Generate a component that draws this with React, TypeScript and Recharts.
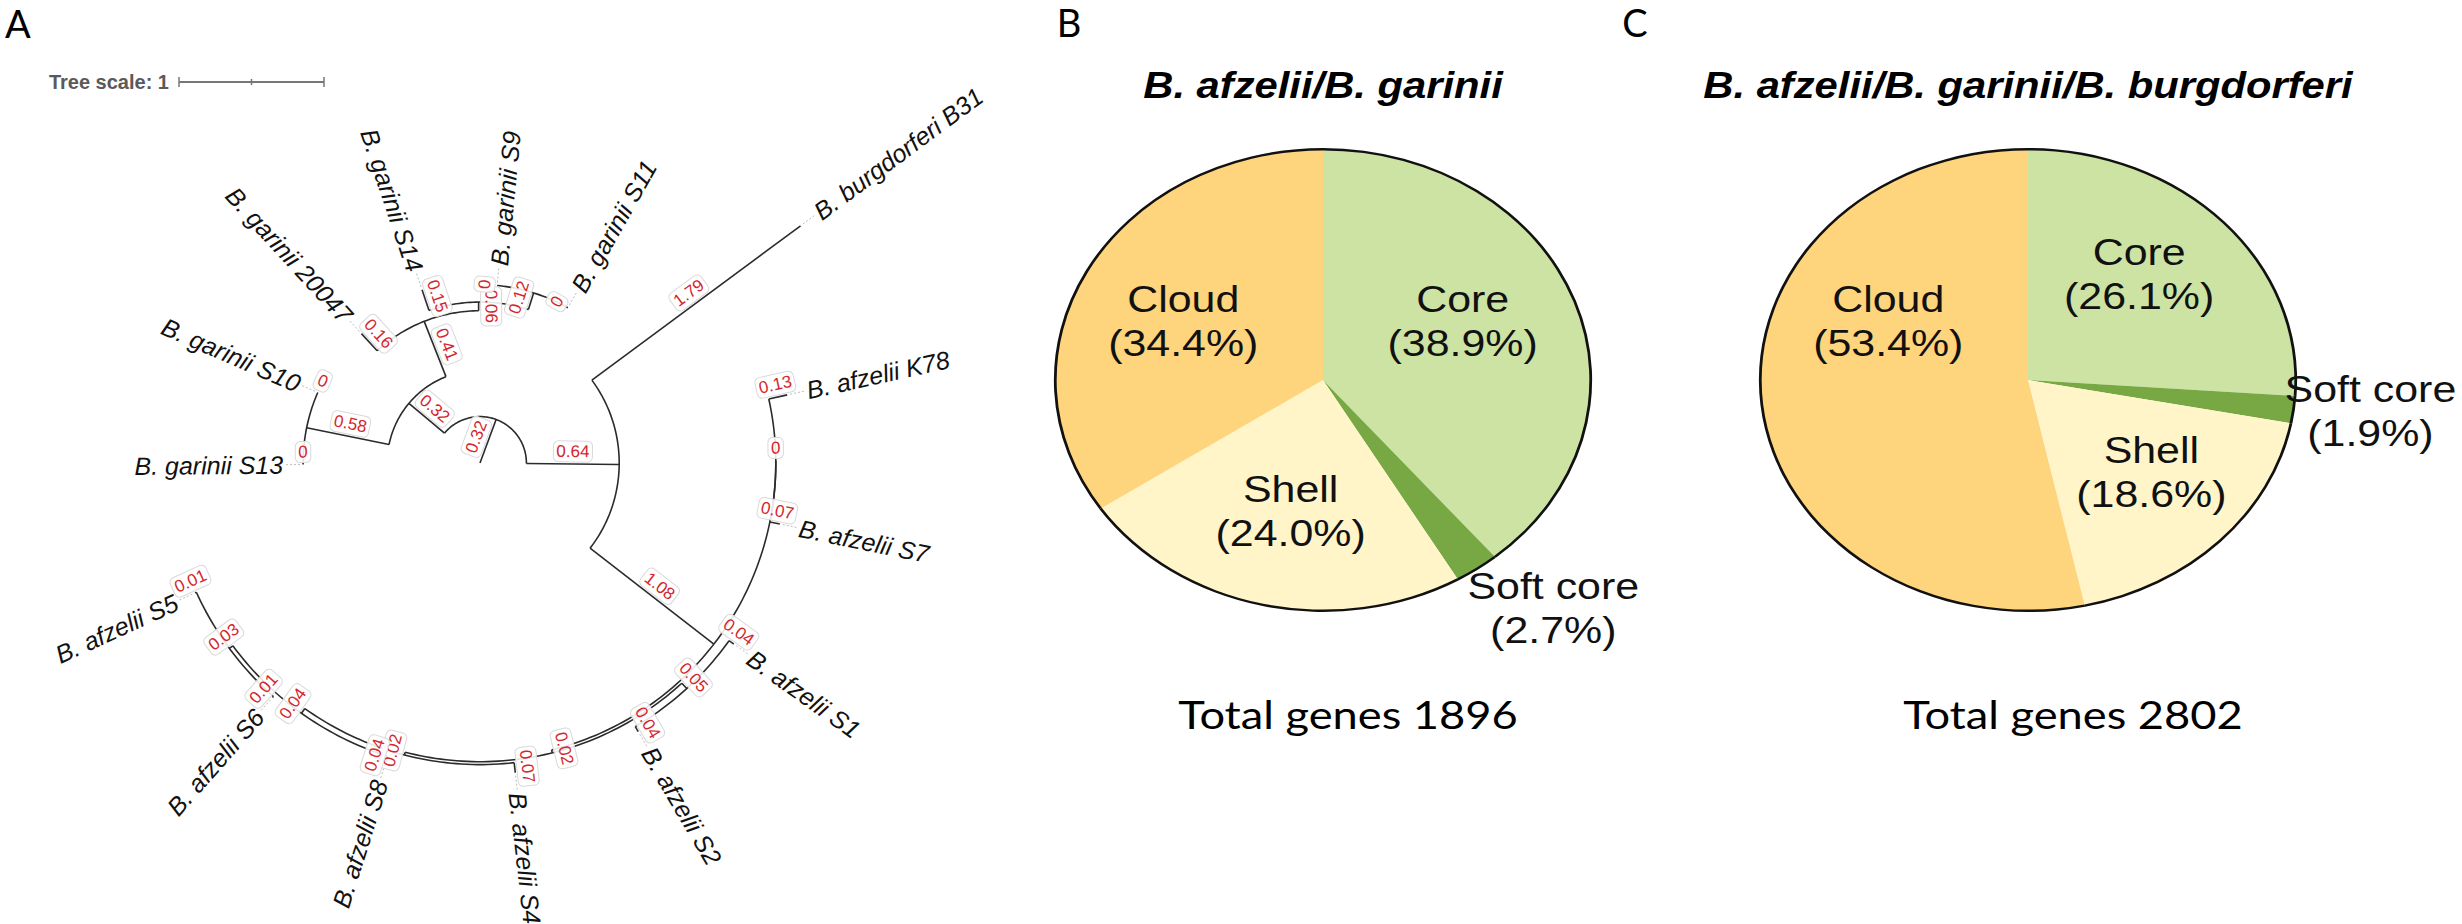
import React from "react";
import { ScatterChart, Scatter, XAxis, YAxis, PieChart, Pie, Cell } from "recharts";

// ---------- panel A: tree (edges as parent -> child with branch length) ----------
const edgeParent = ["root", "x", "x", "y", "y", "z", "z", "g1", "g1", "g2", "g2", "h", "h", "i", "i", "w", "w", "c1", "c1", "n", "n", "p", "p", "q", "q", "r", "r", "t", "t"];
const edgeChild = ["x", "z", "y", "B31", "w", "g1", "g2", "S13", "S10", "20047", "h", "S14", "i", "S9", "S11", "c1", "n", "K78", "S7", "p", "q", "S1", "S2", "S4", "r", "S8", "t", "S6", "S5"];
const edgeLength = [0.32, 0.32, 0.64, 1.79, 1.08, 0.58, 0.41, 0, 0, 0.16, 0.06, 0.15, 0.12, 0, 0, 0, 0.02, 0.13, 0.07, 0.05, 0.02, 0.04, 0.04, 0.07, 0.04, 0.04, 0.03, 0.01, 0.01];

// leaves in clockwise order
const leafOrder = ["S13", "S10", "20047", "S14", "S9", "S11", "B31", "K78", "S7", "S1", "S2", "S4", "S8", "S6", "S5"];
const leafNames = [
  "B. garinii S13", "B. garinii S10", "B. garinii 20047", "B. garinii S14", "B. garinii S9", "B. garinii S11",
  "B. burgdorferi B31", "B. afzelii K78", "B. afzelii S7", "B. afzelii S1", "B. afzelii S2", "B. afzelii S4",
  "B. afzelii S8", "B. afzelii S6", "B. afzelii S5",
];

// ---------- panels B / C: pan-genome partitions ----------
const pieCategories = ["Core", "Soft core", "Shell", "Cloud"];
const pctAfzGar = [38.9, 2.7, 24.0, 34.4];
const pctAfzGarBur = [26.1, 1.9, 18.6, 53.4];
const totalAfzGar = 1896;
const totalAfzGarBur = 2802;

const pieColors = ["#cde3a4", "#77a843", "#fff5c9", "#fed47d"];

// ---------- layout ----------
const TREE_W = 1000;
const TREE_H = 924;
const UNIT = 145; // px per unit of branch length
const ORIGIN = { x: 480, y: 463 };
const START_ANGLE = -180.5;
const STEP = 24;
const STRETCH = 1.16;

const kids: Record<string, string[]> = {};
const lenOf: Record<string, number> = {};
const parentOf: Record<string, string> = {};
edgeChild.forEach((c, i) => {
  (kids[edgeParent[i]] ||= []).push(c);
  lenOf[c] = edgeLength[i];
  parentOf[c] = edgeParent[i];
});

const radius: Record<string, number> = {};
const angle: Record<string, number> = {};
function place(id: string, r: number) {
  radius[id] = r;
  const ch = kids[id];
  if (!ch) {
    angle[id] = START_ANGLE + leafOrder.indexOf(id) * STEP;
    return;
  }
  ch.forEach((c) => place(c, r + lenOf[c]));
  angle[id] = ch.reduce((s, c) => s + angle[c], 0) / ch.length;
}
place("root", 0);

const pt = (r: number, a: number) => ({
  x: r * Math.cos((a * Math.PI) / 180),
  y: -r * Math.sin((a * Math.PI) / 180),
});

const radials = edgeChild.map((c) => [pt(radius[parentOf[c]], angle[c]), pt(radius[c], angle[c])]);

const arcs = Object.keys(kids)
  .filter((id) => kids[id].length > 1)
  .map((id) => {
    const as = kids[id].map((c) => angle[c]);
    const a0 = Math.min(...as);
    const a1 = Math.max(...as);
    const n = Math.max(2, Math.ceil(a1 - a0) + 1);
    return Array.from({ length: n }, (_, k) => pt(radius[id], a0 + ((a1 - a0) * k) / (n - 1)));
  });

const leafData = leafOrder.map((id, i) => ({ ...pt(radius[id], angle[id]), angle: angle[id], label: leafNames[i] }));

const branchData = edgeChild.map((c, i) => ({
  ...pt((radius[parentOf[c]] + radius[c]) / 2, angle[c]),
  angle: angle[c],
  text: edgeLength[i] === 0 ? "0" : edgeLength[i].toFixed(2),
}));

const xDomain = [-ORIGIN.x / UNIT, (TREE_W - ORIGIN.x) / UNIT];
const yDomain = [-(TREE_H - ORIGIN.y) / UNIT, ORIGIN.y / UNIT];

const SCALE_BAR = { left: 179, top: 82 };
const scaleY = (ORIGIN.y - SCALE_BAR.top) / UNIT;
const scaleX0 = (SCALE_BAR.left - ORIGIN.x) / UNIT;
const scaleData = [0, 0.5, 1].map((v) => ({ x: scaleX0 + v, y: scaleY, end: v !== 0.5, first: v === 0 }));

const Empty = () => <g />;

const LeafLabel = (p: any) => {
  const { cx, cy, payload } = p;
  const t = (payload.angle * Math.PI) / 180;
  const ux = Math.cos(t);
  const uy = Math.sin(t);
  const right = ux >= 0;
  const rot = right ? payload.angle : payload.angle + 180;
  const tx = cx + ux * 20;
  const ty = cy + uy * 20;
  return (
    <g>
      <line x1={cx + ux * 3} y1={cy + uy * 3} x2={cx + ux * 18} y2={cy + uy * 18} stroke="#bdbdbd" strokeWidth={1} strokeDasharray="2 2" />
      <text
        x={tx}
        y={ty}
        transform={`rotate(${rot} ${tx} ${ty})`}
        textAnchor={right ? "start" : "end"}
        dominantBaseline="central"
        fontFamily='"Liberation Sans", Arial, sans-serif'
        fontStyle="italic"
        fontSize={25}
        fill="#111"
      >
        {payload.label}
      </text>
    </g>
  );
};

const BranchLabel = (p: any) => {
  const { cx, cy, payload } = p;
  const t = (payload.angle * Math.PI) / 180;
  const rot = Math.cos(t) >= 0 ? payload.angle : payload.angle + 180;
  const fs = 17;
  const w = payload.text.split("").reduce((s: number, ch: string) => s + (ch === "." ? 0.278 : 0.556), 0) * fs + 6;
  const h = 21;
  return (
    <g transform={`translate(${cx} ${cy}) rotate(${rot})`}>
      <rect x={-w / 2} y={-h - 2} width={w} height={h} rx={5} fill="#fff" fillOpacity={0.88} stroke="#d9d9d9" strokeWidth={1} />
      <text x={0} y={-h / 2 - 2} textAnchor="middle" dominantBaseline="central" fontFamily='"Liberation Sans", Arial, sans-serif' fontSize={fs} fill="#d4262b">
        {payload.text}
      </text>
    </g>
  );
};

const ScaleTick = (p: any) => {
  const { cx, cy, payload } = p;
  const h = payload.end ? 5 : 3;
  return (
    <g>
      <line x1={cx} y1={cy - h} x2={cx} y2={cy + h} stroke="#777" strokeWidth={1.5} />
      {payload.first && (
        <text x={cx - 10} y={cy} textAnchor="end" dominantBaseline="central" fontFamily='"Liberation Sans", Arial, sans-serif' fontWeight="bold" fontSize={20} fill="#5a5a5a">
          Tree scale: 1
        </text>
      )}
    </g>
  );
};

function TreePanel() {
  const line = { stroke: "#2b2b2b", strokeWidth: 1.6 };
  return (
    <div style={{ position: "absolute", left: 0, top: 0 }}>
      <ScatterChart width={TREE_W} height={TREE_H} margin={{ top: 0, right: 0, bottom: 0, left: 0 }}>
        <XAxis type="number" dataKey="x" domain={xDomain} allowDataOverflow hide />
        <YAxis type="number" dataKey="y" domain={yDomain} allowDataOverflow hide />
        <Scatter data={scaleData} fill="#777" line={{ stroke: "#777", strokeWidth: 2 }} shape={ScaleTick} isAnimationActive={false} />
        {arcs.map((d, i) => (
          <Scatter key={"a" + i} data={d} fill="#2b2b2b" line={line} shape={Empty} isAnimationActive={false} />
        ))}
        {radials.map((d, i) => (
          <Scatter key={"r" + i} data={d} fill="#2b2b2b" line={line} shape={Empty} isAnimationActive={false} />
        ))}
        <Scatter data={leafData} shape={LeafLabel} isAnimationActive={false} />
        <Scatter data={branchData} shape={BranchLabel} isAnimationActive={false} />
      </ScatterChart>
    </div>
  );
}

// label placement: [degrees clockwise from top, fraction of radius]
const placeB: Record<string, [number, number]> = {
  Core: [64, 0.58],
  "Soft core": [139, 1.31],
  Shell: [192, 0.58],
  Cloud: [296, 0.58],
};
const placeC: Record<string, [number, number]> = {
  Core: [42, 0.62],
  "Soft core": [96, 1.285],
  Shell: [131, 0.61],
  Cloud: [296, 0.58],
};

function PiePanel({ centerX, title, values, total, totalShift, placement }: any) {
  const W = 800;
  const data = pieCategories.map((name, i) => ({ name, value: values[i] }));
  const R = 231;
  const renderLabel = (props: any) => {
    const { cx, cy, index } = props;
    const [deg, rf] = placement[pieCategories[index]];
    const a = (deg * Math.PI) / 180;
    const x = cx + R * rf * Math.sin(a);
    const y = cy - R * rf * Math.cos(a);
    return (
      <text textAnchor="middle" fontFamily='"Liberation Sans", Arial, sans-serif' fontSize={37} fill="#111">
        <tspan x={x} y={y - 9}>{pieCategories[index]}</tspan>
        <tspan x={x} y={y + 35}>{`(${values[index].toFixed(1)}%)`}</tspan>
      </text>
    );
  };
  return (
    <div
      style={{
        position: "absolute",
        left: centerX - W / 2,
        top: 0,
        width: W,
        height: 924,
        transform: `scaleX(${STRETCH})`,
        transformOrigin: "50% 50%",
      }}
    >
      <div style={{ position: "absolute", left: 0, top: 0 }}>
        <PieChart width={W} height={924} margin={{ top: 0, right: 0, bottom: 0, left: 0 }}>
          <Pie
            data={data}
            dataKey="value"
            cx={W / 2}
            cy={380}
            outerRadius={R}
            startAngle={90}
            endAngle={-270}
            stroke="none"
            label={renderLabel}
            labelLine={false}
            isAnimationActive={false}
          >
            {data.map((_, i) => (
              <Cell key={i} fill={pieColors[i]} stroke="none" />
            ))}
          </Pie>
          <Pie
            data={data}
            dataKey="value"
            cx={W / 2}
            cy={380}
            innerRadius={R - 1.4}
            outerRadius={R + 1}
            startAngle={90}
            endAngle={-270}
            fill="#111"
            stroke="none"
            isAnimationActive={false}
          />
        </PieChart>
      </div>
      <svg width={W} height={924} style={{ position: "absolute", left: 0, top: 0, pointerEvents: "none" }}>
        <text x={W / 2} y={98} textAnchor="middle" fontFamily='"Liberation Sans", Arial, sans-serif' fontWeight="bold" fontStyle="italic" fontSize={36} fill="#000">
          {title}
        </text>
        <text x={W / 2 + totalShift / STRETCH} y={729} textAnchor="middle" fontFamily="Lato, sans-serif" fontSize={39} fill="#000">
          {`Total genes ${total}`}
        </text>
      </svg>
    </div>
  );
}

export default function App() {
  return (
    <div style={{ position: "absolute", left: 0, top: 0, width: 2462, height: 924, overflow: "hidden", background: "#fff" }}>
      <TreePanel />
      <PiePanel centerX={1323} title="B. afzelii/B. garinii" values={pctAfzGar} total={totalAfzGar} totalShift={25} placement={placeB} />
      <PiePanel centerX={2028} title="B. afzelii/B. garinii/B. burgdorferi" values={pctAfzGarBur} total={totalAfzGarBur} totalShift={45} placement={placeC} />
      <svg width={2462} height={924} style={{ position: "absolute", left: 0, top: 0, pointerEvents: "none" }}>
        <g fontFamily="Lato, sans-serif" fontSize={38} fill="#000">
          <text x={5} y={38}>A</text>
          <text x={1069} y={37} textAnchor="middle">B</text>
          <text x={1635} y={37} textAnchor="middle">C</text>
        </g>
      </svg>
    </div>
  );
}
